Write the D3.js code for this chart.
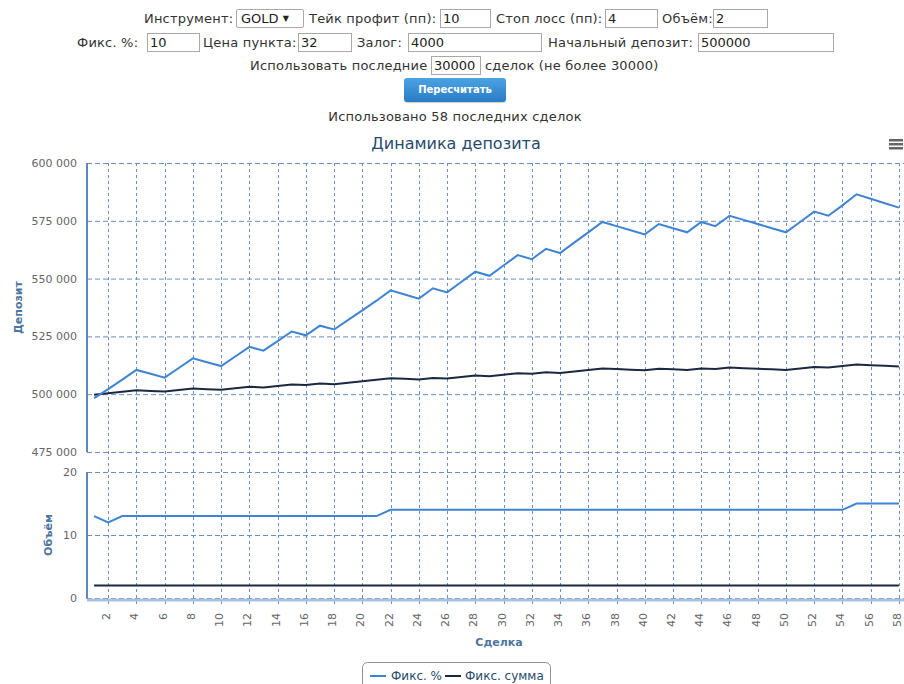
<!DOCTYPE html>
<html>
<head>
<meta charset="utf-8">
<script src="https://cdnjs.cloudflare.com/ajax/libs/d3/7.8.5/d3.min.js"></script>
<style>
  html, body { margin:0; padding:0; background:#fff; }
  body { width:904px; height:684px; position:relative; overflow:hidden; font-family:"DejaVu Sans", Verdana, sans-serif; }
  .lbl { position:absolute; font-size:13px; letter-spacing:0.2px; color:#333; white-space:nowrap; line-height:19px; }
  .inp { position:absolute; height:17px; border:1px solid #a9a9a9; background:#fff; font-size:13px; line-height:17px; padding-left:2px; box-sizing:content-box; color:#222; overflow:hidden; }
  .btn { position:absolute; left:404px; top:78px; width:102px; height:24px; border-radius:3px;
         background:linear-gradient(#4aa3e3,#2a7cc4); color:#fff; font-size:10px; font-weight:bold; text-align:center; line-height:24px; box-shadow:0 1px 1px rgba(0,0,0,0.2); }
  svg { position:absolute; left:0; top:0; }
</style>
</head>
<body>
<div id="form"></div>
<div class="btn">Пересчитать</div>
<svg id="chart" width="904" height="684"></svg>
<script>
// ---- data ----
const deals = d3.range(1, 59); // deal numbers 1..58
const depositPct = [498336,502176,506336,510496,508832,507168,511328,515488,513824,512160,
  516320,520480,518816,522976,527136,525472,529632,527968,532128,536288,
  540448,544928,543136,541344,545824,544032,548512,552992,551200,555680,
  560160,558368,562848,561056,565536,570016,574496,572704,570912,569120,
  573600,571808,570016,574496,572704,577184,575392,573600,571808,570016,
  574496,578976,577184,581664,586464,584544,582624,580704];
const depositSum = [499744,500384,501024,501664,501408,501152,501792,502432,502176,501920,
  502560,503200,502944,503584,504224,503968,504608,504352,504992,505632,
  506272,506912,506656,506400,507040,506784,507424,508064,507808,508448,
  509088,508832,509472,509216,509856,510496,511136,510880,510624,510368,
  511008,510752,510496,511136,510880,511520,511264,511008,510752,510496,
  511136,511776,511520,512160,512800,512544,512288,512032];
const volumePct = [13,12,13,13,13,13,13,13,13,13,13,13,13,13,13,13,13,13,13,13,13,
  14,14,14,14,14,14,14,14,14,14,14,14,14,14,14,14,14,14,14,14,14,14,14,14,14,14,14,14,14,14,14,14,14,
  15,15,15,15];
const volumeSum = [2,2,2,2,2,2,2,2,2,2,2,2,2,2,2,2,2,2,2,2,2,2,2,2,2,2,2,2,2,2,2,2,2,2,2,2,2,2,2,2,2,2,2,2,2,2,2,2,2,2,2,2,2,2,2,2,2,2];
const depTicks = [475000, 500000, 525000, 550000, 575000, 600000];
const volTicks = [0, 10, 20];
const xTicks = d3.range(2, 59, 2);
const seriesNames = ["Фикс. %", "Фикс. сумма"];
const seriesColors = ["#3f84d4", "#1a2940"];

// ---- form ----
const form = d3.select("#form");
const labels = [
  ["Инструмент:",144,9],["Тейк профит (пп):",309,9],["Стоп лосс (пп):",496,9],["Объём:",662,9],
  ["Фикс. %:",77,33],["Цена пункта:",203,33],["Залог:",357,33],["Начальный депозит:",548,33],
  ["Использовать последние",250,56],["сделок (не более 30000)",485,56]
];
labels.forEach(([t,x,y]) => form.append("div").attr("class","lbl").style("left",x+"px").style("top",y+"px").text(t));
const inputs = [
  ["10",440,9,47],["4",605,9,49],["2",713,9,51],
  ["10",147,33,49],["32",298,33,50],["4000",408,33,130],["500000",698,33,132],
  ["30000",431,56,46]
];
inputs.forEach(([t,x,y,w]) => form.append("div").attr("class","inp").style("left",x+"px").style("top",y+"px").style("width",w+"px").text(t));
form.append("div").attr("class","inp").style("left","236px").style("top","9px").style("width","62px")
  .style("border-radius","2px").style("padding-left","4px").html("GOLD <span style='font-size:8px;vertical-align:2px'>▼</span>");
form.append("div").attr("class","lbl").style("left","0").style("width","910px").style("text-align","center")
  .style("top","107px").text("Использовано 58 последних сделок");

// ---- chart ----
const svg = d3.select("#chart");
const L = 87, R = 906;
const x = d3.scaleLinear().domain([0.5, 58.5]).range([L, R]);
const yDep = d3.scaleLinear().domain([475000, 600000]).range([452, 163]);
const yVol = d3.scaleLinear().domain([0, 20]).range([598, 472]);
const gridColor = "#6890c4";
const fmt = v => d3.format(",")(v).replace(/,/g, " ");

// title
svg.append("text").attr("x", 456).attr("y", 149).attr("text-anchor","middle")
  .attr("font-size", 16).attr("fill", "#274b6d").text("Динамика депозита");
// menu icon
[0,4,8].forEach(d => svg.append("rect").attr("x",889).attr("y",139+d).attr("width",14).attr("height",2.5).attr("fill","#666"));

// horizontal grid
svg.append("g").selectAll("line").data(depTicks).join("line")
  .attr("x1", L).attr("x2", 904).attr("y1", d => yDep(d)+0.5).attr("y2", d => yDep(d)+0.5)
  .attr("stroke", gridColor).attr("stroke-dasharray","5,3").attr("stroke-width",1);
svg.append("g").selectAll("line").data(volTicks).join("line")
  .attr("x1", L).attr("x2", 904).attr("y1", d => yVol(d)+0.5).attr("y2", d => yVol(d)+0.5)
  .attr("stroke", gridColor).attr("stroke-dasharray","5,3").attr("stroke-width",1);
// vertical grid
svg.append("g").selectAll("line").data(xTicks).join("line")
  .attr("x1", d => Math.round(x(d))+0.5).attr("x2", d => Math.round(x(d))+0.5)
  .attr("y1", 163).attr("y2", 604)
  .attr("stroke", gridColor).attr("stroke-dasharray","3,3").attr("stroke-width",1);

// y axis lines
svg.append("line").attr("x1",L).attr("x2",L).attr("y1",163).attr("y2",452).attr("stroke","#5b88c2").attr("stroke-width",2);
svg.append("line").attr("x1",L).attr("x2",L).attr("y1",472).attr("y2",599).attr("stroke","#5b88c2").attr("stroke-width",2);
// x axis line
svg.append("line").attr("x1",L).attr("x2",904).attr("y1",600).attr("y2",600).attr("stroke","#a9c2e2").attr("stroke-width",3);

// y tick labels
svg.append("g").selectAll("text").data(depTicks).join("text")
  .attr("x", 77).attr("y", d => yDep(d)+4).attr("text-anchor","end")
  .attr("font-size", 11).attr("fill","#666").text(fmt);
svg.append("g").selectAll("text").data(volTicks).join("text")
  .attr("x", 77).attr("y", d => yVol(d)+4).attr("text-anchor","end")
  .attr("font-size", 11).attr("fill","#666").text(d => d);
// x tick labels
svg.append("g").selectAll("text").data(xTicks).join("text")
  .attr("transform", d => `translate(${x(d)+2},613) rotate(-90)`)
  .attr("text-anchor","end").attr("font-size", 11).attr("fill","#666").text(d => d);

// axis titles
svg.append("text").attr("transform",`translate(22,${(163+452)/2}) rotate(-90)`).attr("text-anchor","middle")
  .attr("font-size",11).attr("font-weight","bold").attr("fill","#4d759e").text("Депозит");
svg.append("text").attr("transform",`translate(52,${(472+598)/2}) rotate(-90)`).attr("text-anchor","middle")
  .attr("font-size",11).attr("font-weight","bold").attr("fill","#4d759e").text("Объём");
svg.append("text").attr("x",499).attr("y",646).attr("text-anchor","middle")
  .attr("font-size",11).attr("font-weight","bold").attr("fill","#4d759e").text("Сделка");

// lines
const lineDep = d3.line().x((d,i) => x(deals[i])).y(d => yDep(d));
const lineVol = d3.line().x((d,i) => x(deals[i])).y(d => yVol(d));
svg.append("path").attr("d", lineDep(depositSum)).attr("fill","none").attr("stroke",seriesColors[1]).attr("stroke-width",2);
svg.append("path").attr("d", lineDep(depositPct)).attr("fill","none").attr("stroke",seriesColors[0]).attr("stroke-width",2);
svg.append("path").attr("d", lineVol(volumeSum)).attr("fill","none").attr("stroke",seriesColors[1]).attr("stroke-width",2);
svg.append("path").attr("d", lineVol(volumePct)).attr("fill","none").attr("stroke",seriesColors[0]).attr("stroke-width",2);

// legend
const lg = svg.append("g");
lg.append("rect").attr("x",362.5).attr("y",662.5).attr("width",188).attr("height",30).attr("rx",5)
  .attr("fill","#fff").attr("stroke","#909090");
const items = [{x:370, tx:391}, {x:445, tx:465}];
items.forEach((it,i) => {
  lg.append("line").attr("x1",it.x).attr("x2",it.x+16).attr("y1",676).attr("y2",676)
    .attr("stroke",seriesColors[i]).attr("stroke-width",2);
  lg.append("text").attr("x",it.tx).attr("y",680).attr("font-size",12).attr("fill","#274b6d").text(seriesNames[i]);
});
</script>
</body>
</html>
